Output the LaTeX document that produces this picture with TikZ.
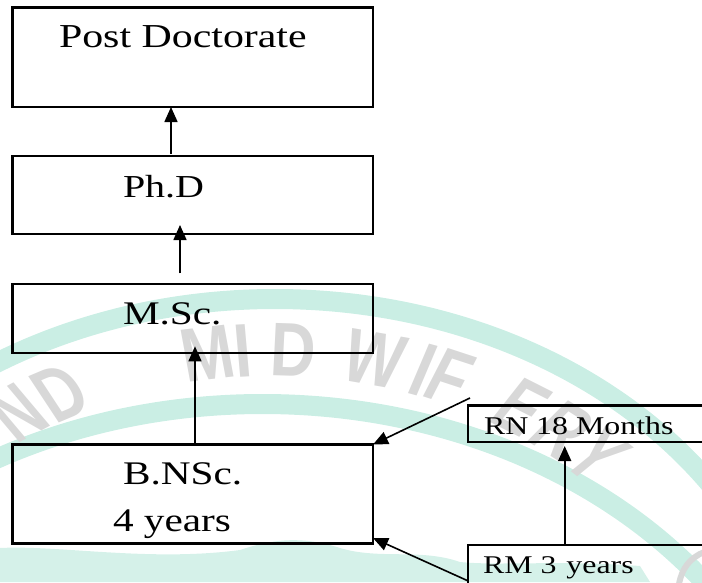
\documentclass[tikz,border=0pt]{standalone}
\usepackage{fontspec}
\setmainfont{Liberation Serif}
\newfontfamily\wmfont{Liberation Sans Bold}
\usepackage{graphicx}
\usetikzlibrary{arrows.meta}
\definecolor{wmgreen}{RGB}{202,238,228}
\definecolor{wmgrey}{RGB}{216,216,216}
\newcommand\sttext[2]{\fontsize{#1}{#1}\selectfont\scalebox{1.25}[1]{#2}}
\newcommand\wmch[1]{\scalebox{0.66}[1]{#1}}
\begin{document}
\begin{tikzpicture}[x=1pt,y=-1pt,
  box/.style={draw, line width=2.3pt, inner sep=0pt, outer sep=0pt, anchor=north west},
  lbl/.style={anchor=base west, inner sep=0pt, outer sep=0pt},
  arr/.style={line width=1.6pt, -{Triangle[length=15pt,width=13pt]}},
  wmletter/.style={text=wmgrey, font=\wmfont\fontsize{76}{76}\selectfont, inner sep=0pt, transform shape}
]
\useasboundingbox (0,0) rectangle (702,582);
\clip (0,0) rectangle (702,582);
% watermark (seal in background)
\fill[wmgreen!80] (0,548) -- (0,582) -- (650,582) -- (640,566)
  .. controls (560,560) and (500,566) .. (460,562)
  .. controls (420,548) and (380,560) .. (340,548)
  .. controls (300,535) and (270,540) .. (240,550)
  .. controls (150,562) and (60,545) .. (0,548);
\draw[wmgreen, line width=20pt] (275,719) ellipse [x radius=525pt, y radius=420pt];
\draw[wmgreen, line width=20pt] (262.5,844) ellipse [x radius=550pt, y radius=440pt];
\draw[wmgrey, line width=6pt] (679,584) .. controls (682,568) and (690,558) .. (704,552);
\begin{scope}[xscale=1.25]
\foreach \ch/\a [count=\i] in {N/-34,D/-27.8,M/-8.4,I/-4,D/2.3,W/12.4,I/18.8,F/22.3,E/32.3,R/38.5,Y/44.4}
  \node[wmletter, rotate=-\a] (wm\i) at ({220+369*sin(\a)},{719-369*cos(\a)}) {\wmch{\ch}};
\end{scope}
% boxes
\node[box, minimum width=360.5pt, minimum height=99.5pt] (pd) at (12.5,7.5) {};
\node[box, minimum width=360.5pt, minimum height=78pt] (phd) at (12.5,156) {};
\node[box, minimum width=360.5pt, minimum height=69pt] (msc) at (12.5,284.3) {};
\node[box, minimum width=360.5pt, minimum height=99pt] (bnsc) at (12.5,444.5) {};
\node[box, minimum width=240pt, minimum height=36.5pt] (rn) at (468.3,405.5) {};
\node[box, minimum width=240pt, minimum height=60pt] (rm) at (468.3,545) {};
% texts
\node[lbl] (pdt) at (59,47) {\sttext{33.5}{Post Doctorate}};
\node[lbl] (phdt) at (123,197) {\sttext{32}{Ph.D}};
\node[lbl] (msct) at (123,324) {\sttext{33}{M.Sc.}};
\node[lbl] (bnsct) at (123,484) {\sttext{33}{B.NSc.}};
\node[lbl] (yrst) at (113,531) {\sttext{33}{4 years}};
\node[lbl] (rnt) at (484,434) {\sttext{25.5}{RN 18 Months}};
\node[lbl] (rmt) at (483,573) {\sttext{25.5}{RM 3\hspace{8pt}years}};
% connectors
\draw[arr] ([xshift=-21.75pt,yshift=2pt]phd.north) -- ([xshift=-21.75pt]pd.south);
\draw[arr] ([xshift=-12.75pt,yshift=11pt]msc.north) -- ([xshift=-12.75pt,yshift=9pt]phd.south);
\draw[arr] ([xshift=2.25pt]bnsc.north) -- ([xshift=2.25pt,yshift=7pt]msc.south);
\draw[arr] ([xshift=1.7pt,yshift=7.5pt]rn.north west) -- (bnsc.north east);
\draw[arr] ([yshift=-36pt]rm.north west) -- ([yshift=5.5pt]bnsc.south east);
\draw[arr] ([xshift=-23.6pt]rm.north) -- ([xshift=-23.6pt,yshift=-4pt]rn.south);
\end{tikzpicture}
\end{document}
